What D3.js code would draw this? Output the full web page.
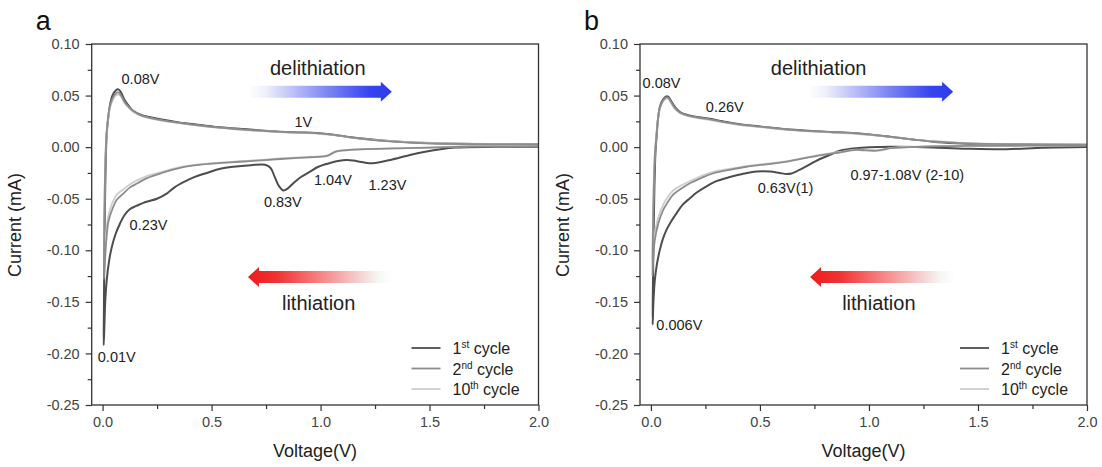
<!DOCTYPE html>
<html>
<head>
<meta charset="utf-8">
<script src="https://cdn.jsdelivr.net/npm/d3@7"></script>
<style>
  body { margin: 0; background: #fff; }
  svg { font-family: "Liberation Sans", Arial, sans-serif; }
</style>
</head>
<body>
<div class="graph"></div>
<script>
// ---- data (voltage V, current mA), scan order: cathodic then anodic ----
var cyclesA1 = [
  [2.0, 0.0005], [1.8, 0.0003], [1.62, -0.0004], [1.55, -0.002], [1.48, -0.0045], [1.41, -0.0076],
  [1.32, -0.0124], [1.24, -0.0156], [1.196, -0.0147], [1.15, -0.013], [1.12, -0.0125], [1.08, -0.0135],
  [1.04, -0.0156], [0.99, -0.019], [0.95, -0.024], [0.91, -0.029], [0.875, -0.035], [0.85, -0.040],
  [0.83, -0.042], [0.81, -0.038], [0.79, -0.029], [0.77, -0.020], [0.745, -0.017], [0.68, -0.0175],
  [0.60, -0.019], [0.54, -0.021], [0.478, -0.025], [0.42, -0.029], [0.371, -0.034], [0.33, -0.039],
  [0.294, -0.045], [0.249, -0.050], [0.21, -0.0525], [0.187, -0.054], [0.155, -0.057], [0.126, -0.060],
  [0.10, -0.066], [0.080, -0.074], [0.06, -0.084], [0.042, -0.097], [0.03, -0.110], [0.019, -0.129],
  [0.012, -0.150], [0.008, -0.175], [0.005, -0.192],
  [0.006, -0.16], [0.008, -0.10], [0.012, -0.04], [0.019, 0.0135], [0.027, 0.030], [0.034, 0.041],
  [0.045, 0.050], [0.06, 0.055], [0.073, 0.056], [0.085, 0.053], [0.1, 0.046], [0.12, 0.040],
  [0.141, 0.035], [0.18, 0.031], [0.22, 0.029], [0.264, 0.027], [0.35, 0.024], [0.447, 0.0215],
  [0.55, 0.019], [0.677, 0.017], [0.814, 0.015], [0.9, 0.0143], [0.98, 0.0137], [1.06, 0.012],
  [1.12, 0.010], [1.18, 0.0086], [1.27, 0.0068], [1.365, 0.0053], [1.45, 0.0043], [1.53, 0.0037],
  [1.7, 0.003], [2.0, 0.0025]
];
var cyclesA2 = [
  [2.0, 0.0008], [1.7, 0.0006], [1.52, -0.0004], [1.4, -0.001], [1.21, -0.002], [1.12, -0.003],
  [1.07, -0.0043], [1.03, -0.0085], [0.95, -0.0098], [0.9, -0.0105], [0.814, -0.0115], [0.677, -0.0135],
  [0.585, -0.0148], [0.45, -0.017], [0.355, -0.020], [0.28, -0.0245], [0.203, -0.030], [0.16, -0.035],
  [0.126, -0.039], [0.095, -0.045], [0.065, -0.051], [0.045, -0.060], [0.027, -0.072], [0.018, -0.088],
  [0.011, -0.110], [0.006, -0.128],
  [0.007, -0.09], [0.010, -0.04], [0.015, 0.0], [0.021, 0.02], [0.03, 0.036], [0.045, 0.047],
  [0.06, 0.052], [0.073, 0.053], [0.085, 0.050], [0.1, 0.044], [0.12, 0.039], [0.141, 0.035],
  [0.18, 0.0305], [0.264, 0.0265], [0.447, 0.021], [0.677, 0.0165], [0.814, 0.0148], [0.98, 0.0135],
  [1.06, 0.0118], [1.18, 0.0083], [1.3, 0.0058], [1.45, 0.0040], [1.6, 0.0032], [2.0, 0.0028]
];
var cyclesA10 = [
  [2.0, 0.0012], [1.7, 0.001], [1.52, 0.0], [1.4, -0.0008], [1.21, -0.0018], [1.12, -0.0028],
  [1.07, -0.004], [1.03, -0.008], [0.95, -0.0094], [0.9, -0.010], [0.814, -0.011], [0.677, -0.013],
  [0.585, -0.0143], [0.45, -0.0165], [0.355, -0.0195], [0.28, -0.0235], [0.203, -0.028], [0.16, -0.032],
  [0.126, -0.036], [0.095, -0.041], [0.065, -0.046], [0.045, -0.054], [0.027, -0.066], [0.018, -0.080],
  [0.011, -0.098], [0.006, -0.115],
  [0.007, -0.08], [0.010, -0.035], [0.015, 0.0], [0.021, 0.019], [0.03, 0.034], [0.045, 0.045],
  [0.06, 0.050], [0.073, 0.051], [0.085, 0.049], [0.1, 0.043], [0.12, 0.038], [0.141, 0.034],
  [0.18, 0.030], [0.264, 0.026], [0.447, 0.0207], [0.677, 0.0163], [0.814, 0.0146], [0.98, 0.0132],
  [1.06, 0.0116], [1.18, 0.0082], [1.3, 0.006], [1.45, 0.0045], [1.6, 0.0036], [2.0, 0.003]
];

var cyclesB1 = [
  [2.0, 0.0002], [1.8, -0.0005], [1.63, -0.002], [1.45, -0.0015], [1.25, 0.0], [1.1, 0.0003],
  [0.94, -0.001], [0.867, -0.0034], [0.821, -0.0075], [0.775, -0.0115], [0.752, -0.014], [0.714, -0.0185],
  [0.668, -0.0235], [0.645, -0.0255], [0.622, -0.026], [0.59, -0.025], [0.546, -0.0237], [0.485, -0.0237],
  [0.42, -0.026], [0.362, -0.029], [0.30, -0.033], [0.255, -0.038], [0.21, -0.044], [0.179, -0.0495],
  [0.145, -0.056], [0.118, -0.064], [0.09, -0.073], [0.072, -0.080], [0.055, -0.089], [0.041, -0.0996],
  [0.028, -0.113], [0.018, -0.129], [0.012, -0.148], [0.008, -0.172],
  [0.009, -0.14], [0.012, -0.09], [0.016, -0.04], [0.021, -0.005], [0.026, 0.010], [0.033, 0.028],
  [0.041, 0.039], [0.055, 0.046], [0.068, 0.049], [0.079, 0.049], [0.092, 0.045], [0.11, 0.039],
  [0.133, 0.034], [0.17, 0.031], [0.22, 0.029], [0.27, 0.0275], [0.33, 0.025], [0.4, 0.0225],
  [0.5, 0.020], [0.638, 0.017], [0.8, 0.015], [0.94, 0.0135], [1.096, 0.0102], [1.2, 0.0075],
  [1.295, 0.0053], [1.4, 0.0038], [1.494, 0.003], [1.7, 0.0024], [2.0, 0.002]
];
var cyclesB2 = [
  [2.0, 0.0015], [1.5, 0.0012], [1.25, 0.0005], [1.1, -0.001], [1.035, -0.0034], [0.97, -0.003],
  [0.94, -0.0027], [0.87, -0.005], [0.79, -0.0076], [0.7, -0.011], [0.638, -0.0135], [0.592, -0.015],
  [0.52, -0.017], [0.439, -0.019], [0.36, -0.022], [0.286, -0.0253], [0.23, -0.030], [0.179, -0.035],
  [0.14, -0.040], [0.102, -0.046], [0.075, -0.054], [0.056, -0.061], [0.034, -0.074], [0.018, -0.090],
  [0.011, -0.108], [0.007, -0.125],
  [0.009, -0.09], [0.013, -0.04], [0.019, -0.005], [0.025, 0.010], [0.032, 0.027], [0.041, 0.038],
  [0.055, 0.045], [0.068, 0.048], [0.079, 0.048], [0.092, 0.044], [0.11, 0.038], [0.133, 0.0335],
  [0.17, 0.0305], [0.22, 0.0285], [0.27, 0.027], [0.33, 0.0245], [0.4, 0.022], [0.5, 0.0198],
  [0.638, 0.0168], [0.8, 0.0148], [0.94, 0.0133], [1.096, 0.010], [1.2, 0.0075], [1.295, 0.0055],
  [1.4, 0.0042], [1.494, 0.0034], [1.7, 0.0028], [2.0, 0.0025]
];
var cyclesB10 = [
  [2.0, 0.0018], [1.5, 0.0015], [1.25, 0.0008], [1.1, -0.0008], [1.06, -0.0032], [1.0, -0.003],
  [0.94, -0.0025], [0.87, -0.0045], [0.79, -0.007], [0.7, -0.0105], [0.638, -0.013], [0.592, -0.0145],
  [0.52, -0.0163], [0.439, -0.0183], [0.36, -0.021], [0.286, -0.024], [0.23, -0.028], [0.179, -0.033],
  [0.14, -0.037], [0.102, -0.042], [0.075, -0.049], [0.056, -0.056], [0.034, -0.068], [0.018, -0.084],
  [0.011, -0.098], [0.007, -0.11],
  [0.009, -0.08], [0.013, -0.035], [0.019, -0.003], [0.025, 0.011], [0.032, 0.027], [0.041, 0.037],
  [0.055, 0.044], [0.068, 0.047], [0.079, 0.047], [0.092, 0.043], [0.11, 0.037], [0.133, 0.033],
  [0.17, 0.030], [0.22, 0.028], [0.27, 0.0265], [0.33, 0.024], [0.4, 0.0217], [0.5, 0.0195],
  [0.638, 0.0165], [0.8, 0.0145], [0.94, 0.013], [1.096, 0.0098], [1.2, 0.0075], [1.295, 0.0057],
  [1.4, 0.0045], [1.494, 0.0037], [1.7, 0.003], [2.0, 0.0028]
];

var cycleNames = ['1', '2', '10'];
var cycleSups = ['st', 'nd', 'th'];
var xTicks = [0, 0.5, 1.0, 1.5, 2.0];
var xMinor = [0.25, 0.75, 1.25, 1.75];
var yTicks = [-0.25, -0.20, -0.15, -0.10, -0.05, 0.00, 0.05, 0.10];
var yMinor = [-0.225, -0.175, -0.125, -0.075, -0.025, 0.025, 0.075];

// annotations: [text, V, I] (left x, baseline)
var notesA = [
  ['0.08V', 0.087, 0.0617], ['1V', 0.88, 0.0195], ['1.04V', 0.97, -0.0367],
  ['1.23V', 1.22, -0.0416], ['0.83V', 0.74, -0.0577], ['0.23V', 0.124, -0.0808],
  ['0.01V', -0.022, -0.208]
];
var notesB = [
  ['0.08V', -0.038, 0.0575], ['0.26V', 0.252, 0.034], ['0.63V(1)', 0.49, -0.0445],
  ['0.97-1.08V (2-10)', 0.915, -0.032], ['0.006V', 0.025, -0.1775]
];

var width = 1102, height = 467;
var colors = ['#4d4d4d', '#8c8c8c', '#cdcdcd'];
var widths = [2, 1.8, 1.8];

var svg = d3.select('div.graph')
  .append('svg')
    .attr('width', width)
    .attr('height', height);

var defs = svg.append('defs');

function drawPanel(p) {
  var x = d3.scaleLinear().domain([-0.05, 2.0]).range([p.left, p.right]);
  var y = d3.scaleLinear().domain([-0.25, 0.10]).range([405, 44]);
  var g = svg.append('g');

  // minor ticks
  g.append('g')
    .attr('transform', 'translate(0,405)')
    .call(d3.axisBottom(x).tickValues(xMinor).tickSize(4).tickFormat(''))
    .call(s => s.select('.domain').remove());
  g.append('g')
    .attr('transform', 'translate(' + p.left + ',0)')
    .call(d3.axisLeft(y).tickValues(yMinor).tickSize(4).tickFormat(''))
    .call(s => s.select('.domain').remove());

  var xa = g.append('g')
    .attr('transform', 'translate(0,405)')
    .call(d3.axisBottom(x).tickValues(xTicks).tickSize(6).tickPadding(6).tickFormat(d => d.toFixed(1)));
  xa.select('.domain').remove();
  var ya = g.append('g')
    .attr('transform', 'translate(' + p.left + ',0)')
    .call(d3.axisLeft(y).tickValues(yTicks).tickSize(6).tickPadding(6).tickFormat(d => d.toFixed(2)));
  ya.select('.domain').remove();
  g.selectAll('.tick line').attr('stroke', '#333').attr('stroke-width', 1.2);
  g.selectAll('.tick text')
    .style('font-size', '14.5px')
    .style('font-family', '"Liberation Sans", Arial, sans-serif')
    .attr('fill', '#444');

  // curves
  var line = d3.line()
    .x(d => x(d[0]))
    .y(d => y(d[1]))
    .curve(d3.curveCatmullRom.alpha(0.5));
  [0, 2, 1].forEach(i => {
    g.append('path')
      .datum(p.cycles[i])
      .attr('fill', 'none')
      .attr('stroke', colors[i])
      .attr('stroke-width', widths[i])
      .attr('stroke-linejoin', 'round')
      .attr('d', line);
  });

  // frame
  g.append('rect')
    .attr('x', p.left).attr('y', 44)
    .attr('width', p.right - p.left).attr('height', 405 - 44)
    .attr('fill', 'none').attr('stroke', '#333').attr('stroke-width', 1.3);

  // notes
  g.selectAll('text.note')
    .data(p.notes)
    .enter()
    .append('text')
      .attr('class', 'note')
      .attr('x', d => x(d[1]))
      .attr('y', d => y(d[2]))
      .style('font-size', '14.5px')
      .attr('fill', '#222')
      .text(d => d[0]);

  // arrows
  var by = y(0.0538), ry = y(-0.126);
  var bx0 = x(p.blue[0]), bx1 = x(p.blue[1]);
  var rx0 = x(p.red[0]), rx1 = x(p.red[1]);
  var gb = defs.append('linearGradient').attr('id', 'gb' + p.id)
    .attr('gradientUnits', 'userSpaceOnUse')
    .attr('x1', bx0).attr('x2', bx1).attr('y1', 0).attr('y2', 0);
  gb.append('stop').attr('offset', 0).attr('stop-color', '#ffffff');
  gb.append('stop').attr('offset', 0.12).attr('stop-color', '#eef0fb');
  gb.append('stop').attr('offset', 0.55).attr('stop-color', '#7d86f2');
  gb.append('stop').attr('offset', 0.85).attr('stop-color', '#3543f0');
  gb.append('stop').attr('offset', 1).attr('stop-color', '#2d3bef');
  var gr = defs.append('linearGradient').attr('id', 'gr' + p.id)
    .attr('gradientUnits', 'userSpaceOnUse')
    .attr('x1', rx0).attr('x2', rx1).attr('y1', 0).attr('y2', 0);
  gr.append('stop').attr('offset', 0).attr('stop-color', '#ee1c1c');
  gr.append('stop').attr('offset', 0.2).attr('stop-color', '#f03232');
  gr.append('stop').attr('offset', 0.6).attr('stop-color', '#f6a0a0');
  gr.append('stop').attr('offset', 0.9).attr('stop-color', '#f4f7f4');
  gr.append('stop').attr('offset', 1).attr('stop-color', '#ffffff');

  var hl = 11, bh = 6, hh = 10;
  g.append('path')
    .attr('d', 'M' + bx0 + ',' + (by - bh) + 'L' + (bx1 - hl) + ',' + (by - bh) + 'L' + (bx1 - hl) + ',' + (by - hh) +
      'L' + bx1 + ',' + by + 'L' + (bx1 - hl) + ',' + (by + hh) + 'L' + (bx1 - hl) + ',' + (by + bh) +
      'L' + bx0 + ',' + (by + bh) + 'Z')
    .attr('fill', 'url(#gb' + p.id + ')');
  g.append('path')
    .attr('d', 'M' + rx1 + ',' + (ry - bh) + 'L' + (rx0 + hl) + ',' + (ry - bh) + 'L' + (rx0 + hl) + ',' + (ry - hh) +
      'L' + rx0 + ',' + ry + 'L' + (rx0 + hl) + ',' + (ry + hh) + 'L' + (rx0 + hl) + ',' + (ry + bh) +
      'L' + rx1 + ',' + (ry + bh) + 'Z')
    .attr('fill', 'url(#gr' + p.id + ')');

  g.append('text')
    .attr('x', x(p.delith)).attr('y', y(0.070))
    .style('font-size', '20px').attr('fill', '#222')
    .text('delithiation');
  g.append('text')
    .attr('x', x(p.lith)).attr('y', y(-0.158))
    .style('font-size', '20px').attr('fill', '#222')
    .text('lithiation');

  // legend
  var lg = g.append('g')
    .attr('transform', 'translate(' + (p.right - 127) + ',348)');
  cycleNames.forEach((n, i) => {
    lg.append('line')
      .attr('x1', 0).attr('x2', 29)
      .attr('y1', i * 20.5).attr('y2', i * 20.5)
      .attr('stroke', colors[i]).attr('stroke-width', 1.8);
    var t = lg.append('text')
      .attr('x', 41).attr('y', i * 20.5 + 6)
      .style('font-size', '16px').attr('fill', '#222');
    t.append('tspan').text(n);
    t.append('tspan').attr('dy', -6).style('font-size', '10px').text(cycleSups[i]);
    t.append('tspan').attr('dy', 6).text(' cycle');
  });

  // axis titles
  g.append('text')
    .attr('x', (p.left + p.right) / 2).attr('y', 457)
    .attr('text-anchor', 'middle')
    .style('font-size', '18px').attr('fill', '#222')
    .text('Voltage(V)');
  g.append('text')
    .attr('transform', 'translate(' + (p.left - 71) + ',225) rotate(-90)')
    .attr('text-anchor', 'middle')
    .style('font-size', '18px').attr('fill', '#222')
    .text('Current (mA)');
  g.append('text')
    .attr('x', p.left - 56).attr('y', 30)
    .style('font-size', '27px').attr('fill', '#111')
    .text(p.id);
}

drawPanel({id: 'a', left: 91.7, right: 538.5, cycles: [cyclesA1, cyclesA2, cyclesA10],
  notes: notesA, blue: [0.667, 1.327], red: [0.667, 1.332], delith: 0.768, lith: 0.823});
drawPanel({id: 'b', left: 640, right: 1087, cycles: [cyclesB1, cyclesB2, cyclesB10],
  notes: notesB, blue: [0.72, 1.386], red: [0.73, 1.395], delith: 0.55, lith: 0.877});
</script>
</body>
</html>
